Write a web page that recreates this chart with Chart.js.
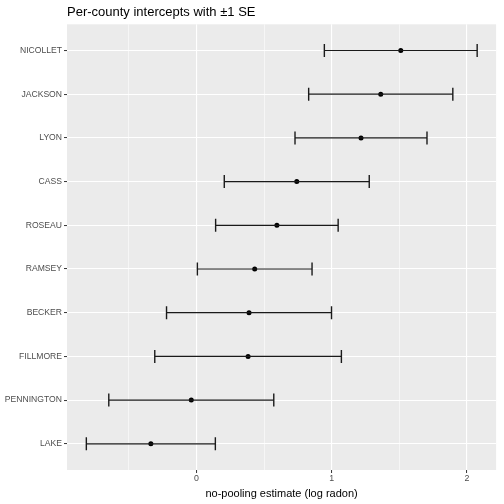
<!DOCTYPE html>
<html>
<head>
<meta charset="utf-8">
<script src="https://cdn.jsdelivr.net/npm/chart.js@4.4.0/dist/chart.umd.min.js"></script>
<style>
  html, body { margin: 0; padding: 0; background: #fff; }
  #wrap { width: 504px; height: 504px; }
</style>
</head>
<body>
<div id="wrap"><canvas id="canvas" width="504" height="504"></canvas></div>
<script>
// counties, top to bottom
var counties = ['NICOLLET', 'JACKSON', 'LYON', 'CASS', 'ROSEAU', 'RAMSEY', 'BECKER', 'FILLMORE', 'PENNINGTON', 'LAKE'];
// no-pooling estimate and its standard error
var estimate = [1.51, 1.362, 1.216, 0.741, 0.594, 0.43, 0.388, 0.381, -0.039, -0.338];
var se = [0.565, 0.533, 0.488, 0.536, 0.453, 0.424, 0.61, 0.69, 0.61, 0.477];
var xTicks = [-0.5, 0, 0.5, 1, 1.5, 2];

var FONT = '"Liberation Sans", Arial, Helvetica, sans-serif';

var panelBg = {
	id: 'panelBg',
	beforeDraw: function(chart) {
		var a = chart.chartArea, ctx = chart.ctx;
		ctx.save();
		ctx.fillStyle = '#EBEBEB';
		ctx.fillRect(a.left, a.top, a.right - a.left, a.bottom - a.top);
		ctx.restore();
	}
};

function isMajor(v) {
	return Math.abs(v - Math.round(v)) < 1e-9;
}

var datasets = [];
// error bars: one small line per county, caps drawn as vertical 'line' points
counties.forEach(function(name, i) {
	datasets.push({
		type: 'line',
		data: [
			{ x: estimate[i] - se[i], y: i + 1 },
			{ x: estimate[i] + se[i], y: i + 1 }
		],
		showLine: true,
		borderColor: '#1a1a1a',
		borderWidth: 1.2,
		pointStyle: 'line',
		pointRotation: 90,
		pointRadius: 6.5,
		pointBorderColor: '#1a1a1a',
		pointBorderWidth: 1.4,
		pointHoverRadius: 6.5
	});
});
datasets.push({
	type: 'scatter',
	data: counties.map(function(name, i) { return { x: estimate[i], y: i + 1 }; }),
	pointRadius: 2.5,
	pointBackgroundColor: '#000',
	pointBorderWidth: 0
});

var ctx = document.getElementById('canvas').getContext('2d');
var config = {
	type: 'scatter',
	data: { datasets: datasets },
	plugins: [panelBg],
	options: {
		responsive: false,
		animation: false,
		devicePixelRatio: 1,
		layout: { padding: { left: 0, right: 6, top: 0, bottom: 3 } },
		plugins: {
			legend: { display: false },
			tooltip: { enabled: false },
			title: {
				display: true,
				text: 'Per-county intercepts with \u00b11 SE',
				align: 'start',
				fullSize: false,
				color: '#000',
				font: { family: FONT, size: 13, weight: 'normal', lineHeight: 1.1 },
				padding: { top: 5, bottom: 5 }
			}
		},
		scales: {
			x: {
				type: 'linear',
				min: -0.958,
				max: 2.215,
				afterBuildTicks: function(scale) {
					scale.ticks = xTicks.map(function(v) { return { value: v }; });
				},
				afterFit: function(scale) { scale.height = 31; },
				border: { display: false },
				grid: {
					color: '#FFFFFF',
					lineWidth: function(c) { return isMajor(c.tick.value) ? 1.1 : 0.55; },
					drawTicks: true,
					tickLength: 3,
					tickWidth: 1,
					tickColor: function(c) { return isMajor(c.tick.value) ? '#333333' : 'rgba(0,0,0,0)'; }
				},
				ticks: {
					autoSkip: false,
					maxRotation: 0,
					padding: 0,
					color: '#4D4D4D',
					font: { family: FONT, size: 8.8 },
					callback: function(v) { return isMajor(v) ? String(Math.round(v)) : ''; }
				},
				title: {
					display: true,
					text: 'no-pooling estimate (log radon)',
					color: '#000',
					font: { family: FONT, size: 11 },
					padding: { top: 0, bottom: 0 }
				}
			},
			y: {
				type: 'linear',
				reverse: true,
				min: 0.4,
				max: 10.6,
				afterBuildTicks: function(scale) {
					scale.ticks = counties.map(function(n, i) { return { value: i + 1 }; });
				},
				afterFit: function(scale) { scale.width = 67; },
				border: { display: false },
				grid: {
					color: '#FFFFFF',
					lineWidth: 1.1,
					drawTicks: true,
					tickLength: 3,
					tickWidth: 1,
					tickColor: '#333333'
				},
				ticks: {
					autoSkip: false,
					padding: 2,
					color: '#4D4D4D',
					font: { family: FONT, size: 8.6 },
					callback: function(v) { return counties[Math.round(v) - 1] || ''; }
				}
			}
		}
	}
};
window.myChart = new Chart(ctx, config);
</script>
</body>
</html>
